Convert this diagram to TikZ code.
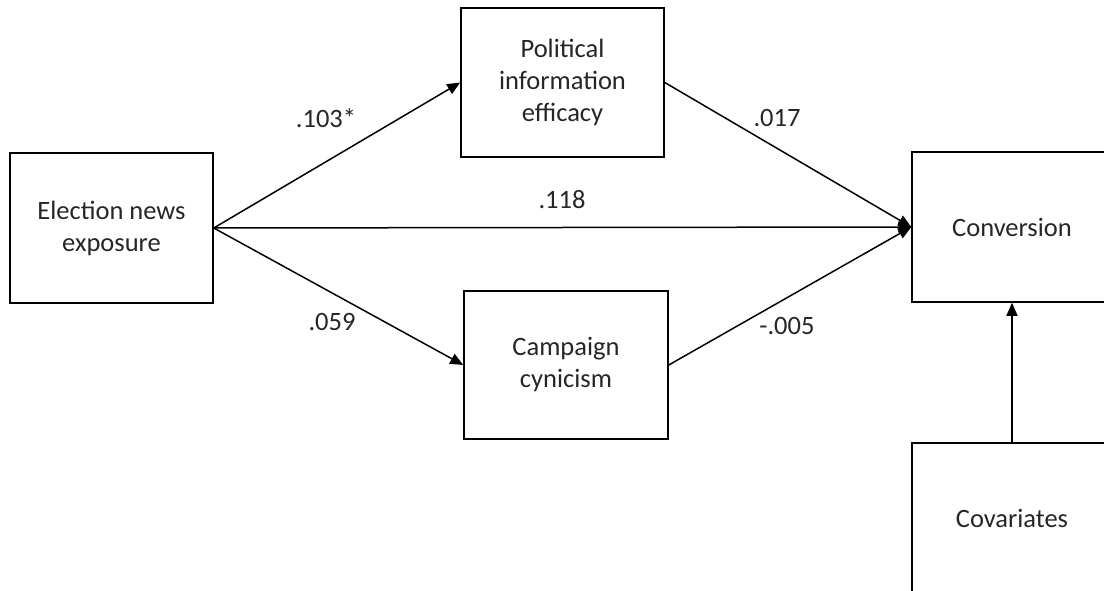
\documentclass[tikz,border=0pt]{standalone}
\usepackage{fontspec}
\setmainfont{Carlito}
\usetikzlibrary{arrows.meta}
\begin{document}
\begin{tikzpicture}[x=1pt,y=-1pt,
  box/.style={draw, line width=1.5pt, align=center, inner sep=0pt, text=black!85,
    font=\fontsize{26.5}{32}\selectfont},
  arr/.style={line width=1.5pt, -{Triangle[length=13pt,width=11pt]}},
  lbl/.style={inner sep=0pt, text=black!85, font=\fontsize{26.5}{32}\selectfont}]
\useasboundingbox (0,0) rectangle (1104,591);
\clip (0,0) rectangle (1104,591);
\node[box, minimum width=203pt, minimum height=150pt] (ene) at (111.5,228) {Election news\\exposure};
\node[box, minimum width=203pt, minimum height=149pt] (pie) at (562.5,82.5) {Political\\information\\efficacy};
\node[box, minimum width=204pt, minimum height=148pt] (cc) at (566,365) {Campaign\\cynicism};
\node[box, minimum width=200pt, minimum height=150pt] (conv) at (1012,227) {Conversion};
\node[box, minimum width=200pt, minimum height=150pt] (cov) at (1012,518) {Covariates};
\draw[arr] (ene.east) -- (pie.west);
\draw[arr] (ene.east) -- (cc.west);
\draw[arr] (ene.east) -- (conv.west);
\draw[arr] (pie.east) -- (conv.west);
\draw[arr] (cc.east) -- (conv.west);
\draw[arr] (cov.north) -- (conv.south);
\node[lbl] (l1) at (326,118) {.103*};
\node[lbl] (l2) at (777,118) {.017};
\node[lbl] (l3) at (562,200) {.118};
\node[lbl] (l4) at (332,322) {.059};
\node[lbl] (l5) at (787,326) {-.005};
\end{tikzpicture}
\end{document}
